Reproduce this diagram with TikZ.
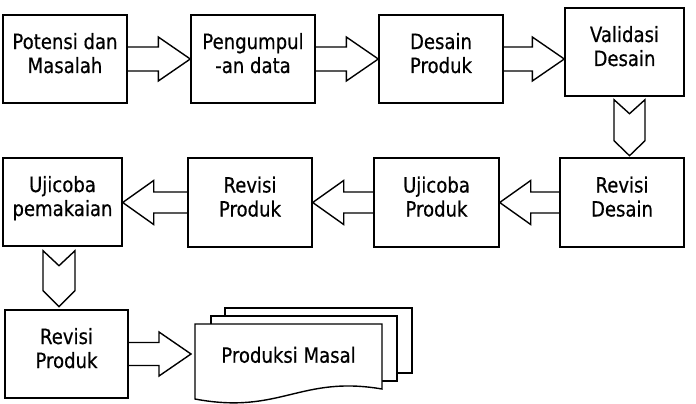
\documentclass[tikz,border=0pt]{standalone}
\usepackage{fontspec}
\setmainfont{DejaVu Sans}[FakeStretch=0.86,FakeBold=0.5]
\usetikzlibrary{calc}
\newcommand\twol[2]{\rule{0pt}{16pt}#1\\#2\rule[-12pt]{0pt}{12pt}}
% right block arrow: from, to, shaft half height, head half height, head length
\newcommand\rarr[5]{%
  \coordinate (tipR) at (#2.west|-#1.east);
  \draw[blk] ($(#1.east)+(0,-#3)$) -- ($(tipR)+(-#5,-#3)$) -- ($(tipR)+(-#5,-#4)$) -- (tipR)
     -- ($(tipR)+(-#5,#4)$) -- ($(tipR)+(-#5,#3)$) -- ($(#1.east)+(0,#3)$);}
\newcommand\larr[5]{%
  \coordinate (tipL) at (#2.east|-#1.west);
  \draw[blk] ($(#1.west)+(0,-#3)$) -- ($(tipL)+(#5,-#3)$) -- ($(tipL)+(#5,-#4)$) -- (tipL)
     -- ($(tipL)+(#5,#4)$) -- ($(tipL)+(#5,#3)$) -- ($(#1.west)+(0,#3)$);}
\begin{document}
\begin{tikzpicture}[x=1pt,y=-1pt,
  txt/.style={font=\fontsize{21}{24}\selectfont},
  box/.style={draw,line width=1.4pt,minimum width=124pt,minimum height=88pt,inner sep=0pt,align=center,txt},
  blk/.style={draw,line width=1.4pt,line join=miter}]
\useasboundingbox (0,0) rectangle (696,404);
% row 1
\node[box] (b1) at (65,59) {\twol{Potensi dan}{Masalah}};
\node[box] (b2) at (253,59) {\twol{Pengumpul}{-an data}};
\node[box] (b3) at (441,59) {\twol{Desain}{Produk}};
\node[box,minimum width=119pt] (b4) at (624.5,52) {\twol{Validasi}{Desain}};
% row 2
\node[box,minimum height=89pt] (b5) at (622,202.5) {\twol{Revisi}{Desain}};
\node[box,minimum width=125pt,minimum height=89pt] (b6) at (436.5,202.5) {\twol{Ujicoba}{Produk}};
\node[box,minimum height=89pt] (b7) at (250,202.5) {\twol{Revisi}{Produk}};
\node[box,minimum width=119pt] (b8) at (62.5,202) {\twol{Ujicoba}{pemakaian}};
% row 3
\node[box,minimum width=123pt] (b9) at (66.5,354) {\twol{Revisi}{Produk}};
% document stack
\draw[blk,fill=white] (225,308) rectangle (412,373);
\draw[blk,fill=white] (211,316) rectangle (397,381);
\draw[blk,fill=white] (195,324) -- (382,324) -- (382,389) .. controls (300,375) and (280,415) .. (195,399) -- cycle;
\node[txt,anchor=base,inner sep=0pt] (doc) at (288.5,362.7) {Produksi Masal};
\coordinate (dtip) at (191,354);
% block arrows
\rarr{b1}{b2}{12}{22}{32}
\rarr{b2}{b3}{12}{22}{32}
\rarr{b3}{b4}{12}{22}{32}
\larr{b5}{b6}{10.5}{22}{31}
\larr{b6}{b7}{10.5}{22}{31}
\larr{b7}{b8}{10.5}{22}{31}
\coordinate (tip9) at (dtip|-b9.east);
\draw[blk] ($(b9.east)+(0,-11.5)$) -- ($(tip9)+(-32,-11.5)$) -- ($(tip9)+(-32,-22)$) -- (tip9)
   -- ($(tip9)+(-32,22)$) -- ($(tip9)+(-32,11.5)$) -- ($(b9.east)+(0,11.5)$);
% chevrons
\coordinate (c4) at ($(b4.south)+(5,3)$);
\draw[blk] ($(c4)+(-15.5,0)$) -- ++(15.5,14) -- ++(15.5,-14) -- ++(0,41) -- ++(-15.5,15) -- ++(-15.5,-15) -- cycle;
\coordinate (c8) at ($(b8.south)+(-3.5,4)$);
\draw[blk] ($(c8)+(-16,0)$) -- ++(16,15) -- ++(16,-15) -- ++(0,40) -- ++(-16,16) -- ++(-16,-16) -- cycle;
\end{tikzpicture}
\end{document}
